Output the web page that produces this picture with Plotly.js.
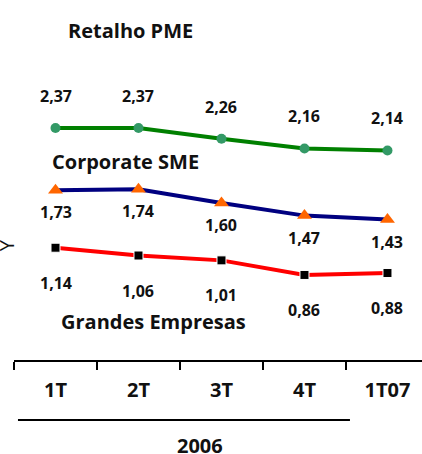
<!DOCTYPE html>
<html>
<head>
<meta charset="utf-8">
<script src="https://cdn.plot.ly/plotly-3.0.1.min.js"></script>
<style>html,body{margin:0;padding:0;background:#fff;}#chart{width:422px;height:454px;}</style>
</head>
<body>
<div id="chart"></div>
<script>
var categories = ['1T', '2T', '3T', '4T', '1T07'];
var retalhoPME = [2.37, 2.37, 2.26, 2.16, 2.14];
var corporateSME = [1.73, 1.74, 1.60, 1.47, 1.43];
var grandesEmpresas = [1.14, 1.06, 1.01, 0.86, 0.88];
var seriesNames = ['Retalho PME', 'Corporate SME', 'Grandes Empresas'];
var groupLabel = '2006';

var FONT = 'Open Sans, Noto Sans, DejaVu Sans, sans-serif';
function fmt(v) { return v.toFixed(2).replace('.', ','); }

var traces = [
  {x: categories, y: retalhoPME, type: 'scatter', mode: 'lines+markers', name: seriesNames[0],
   line: {color: '#008000', width: 4}, marker: {symbol: 'circle', size: 10, color: '#339966'}},
  {x: categories, y: corporateSME, type: 'scatter', mode: 'lines+markers', name: seriesNames[1],
   line: {color: '#000080', width: 4}, marker: {symbol: 'triangle-up', size: 13, color: '#FF6600'}},
  {x: categories, y: grandesEmpresas, type: 'scatter', mode: 'lines+markers', name: seriesNames[2],
   line: {color: '#FF0000', width: 4}, marker: {symbol: 'square', size: 9, color: '#000000', line: {color: '#ffffff', width: 1}}}
];

var annotations = [];
function addLabels(vals, shift) {
  vals.forEach(function (v, i) {
    annotations.push({x: categories[i], y: v, xref: 'x', yref: 'y', text: fmt(v), showarrow: false,
      xanchor: 'center', yanchor: 'middle',
      yshift: shift, font: {family: FONT, size: 16, weight: 700, color: '#111'}});
  });
}
addLabels(retalhoPME, 32);
addLabels(corporateSME, -22);
addLabels(grandesEmpresas, -35);

var nameFont = {family: FONT, size: 20, weight: 700, color: '#111'};
function addText(txt, x, y, font, angle) {
  annotations.push({xref: 'paper', yref: 'paper', x: x, y: y, text: txt, showarrow: false,
    xanchor: 'center', yanchor: 'middle', textangle: angle || 0, font: font});
}
addText(seriesNames[0], 0.2855, 0.914, nameFont);
addText(seriesNames[1], 0.2733, 0.55, nameFont);
addText(seriesNames[2], 0.343, 0.107, nameFont);
addText(groupLabel, 0.457, -0.2375, nameFont);
addText('Y', -0.0196, 0.319, {family: FONT, size: 20, color: '#111'}, -90);

var layout = {
  width: 422, height: 454,
  margin: {l: 14, r: 0, t: 0, b: 94},
  paper_bgcolor: '#ffffff', plot_bgcolor: '#ffffff',
  showlegend: false,
  xaxis: {type: 'category', range: [-0.5, 4.416], showline: true, linecolor: '#000', linewidth: 2,
    ticks: 'outside', tickson: 'boundaries', ticklen: 8, tickwidth: 2, tickcolor: '#000',
    showgrid: false, zeroline: false, ticklabelstandoff: 11,
    tickfont: {family: FONT, size: 20, weight: 700, color: '#111'}},
  yaxis: {range: [-0.014, 3.686], showgrid: false, zeroline: false, showticklabels: false, showline: false, ticks: ''},
  shapes: [{type: 'line', xref: 'x', yref: 'paper', x0: -0.452, x1: 3.548, y0: -0.1667, y1: -0.1667,
    line: {color: '#000', width: 2}}],
  annotations: annotations
};

Plotly.newPlot('chart', traces, layout, {displayModeBar: false, staticPlot: true});
</script>
</body>
</html>
